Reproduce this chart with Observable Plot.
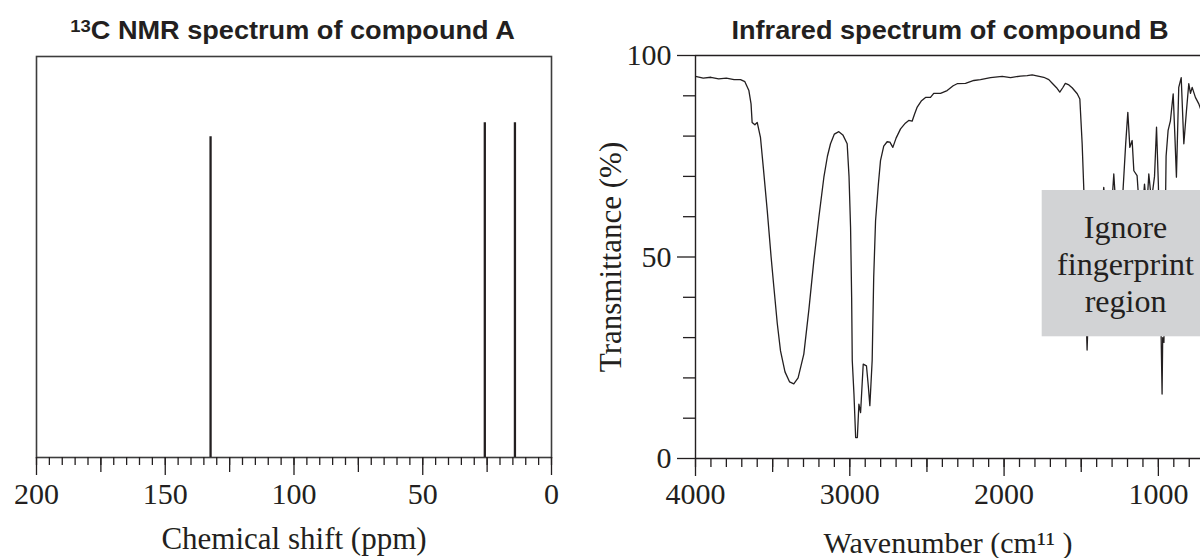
<!DOCTYPE html>
<html><head><meta charset="utf-8">
<script src="https://cdn.jsdelivr.net/npm/d3@7"></script>
<script src="https://cdn.jsdelivr.net/npm/@observablehq/plot@0.6"></script>
<style>
html,body{margin:0;padding:0;background:#fff;overflow:hidden;width:1200px;height:558px;}
#wrap{position:relative;width:1200px;height:558px;}
.title{position:absolute;font-family:"Liberation Sans",Arial,sans-serif;font-weight:bold;font-size:25px;color:#231f20;line-height:25px;white-space:nowrap;text-align:center;transform:scaleX(1.085);transform-origin:center;}
.title sup{font-size:0.68em;vertical-align:0.42em;line-height:0}
#left,#right{position:absolute;top:0}
#left{left:0}
#right{left:580px}
#left svg text, #right svg text{font-family:"Liberation Serif","Times New Roman",serif !important;}
</style></head>
<body><div id="wrap">
<div id="left"></div><div id="right"></div>
<div class="title" style="left:0;width:585px;top:18px"><sup>13</sup>C NMR spectrum of compound A</div>
<div class="title" style="left:700px;width:500px;top:18px">Infrared spectrum of compound B</div>
</div>
<script>
// ---- NMR data (compound A) ----
const nmrShifts = [132.4, 25.9, 14.2];
const nmrIntensity = [0.80, 0.835, 0.835];
const nmrTicksMajor = [200, 150, 100, 50, 0];
const nmrTicksMid = [175, 125, 75, 25];
const nmrTicksMinor = d3.range(0, 201, 5);
const nmrLabel = "Chemical shift (ppm)";

// ---- IR data (compound B) ----
const irWavenumber = [4000,3950,3900,3850,3800,3750,3708,3680,3654,3640,3633,3615,3600,3579,3560,3535,3510,3492,3470,3449,3420,3390,3363,3335,3298,3265,3233,3200,3168,3145,3125,3100,3071,3045,3017,3005,2995,2988,2984,2973,2962,2951,2941,2930,2913,2892,2880,2870,2855,2845,2833,2815,2801,2780,2758,2740,2721,2700,2671,2640,2618,2596,2580,2563,2535,2509,2477,2456,2412,2369,2330,2304,2250,2196,2153,2088,2012,1958,1894,1850,1818,1780,1743,1710,1688,1660,1639,1620,1603,1580,1559,1526,1509,1494,1483,1468,1462,1455,1440,1420,1400,1380,1365,1354,1340,1320,1300,1289,1275,1250,1230,1212,1198,1185,1170,1159,1138,1120,1100,1090,1075,1062,1045,1025,1012,1000,990,982,976,972,964,958,950,937,922,904,893,883,868,852,835,818,803,792,781,760,738,720];
const irTransmittance = [94.8,94.4,94.6,94.2,94.4,94.0,94.0,93.5,91.3,88.0,83.4,82.8,83.4,79.7,72.0,61.5,50.0,42.5,33.5,26.7,21.5,19.0,18.5,20.0,25.9,37.0,49.1,60.0,69.8,75.0,78.1,80.5,81.1,80.3,78.1,70.0,57.4,40.0,24.3,16.0,5.2,5.2,13.5,11.4,23.4,23.0,18.0,13.1,24.3,45.0,59.0,68.0,73.9,77.5,78.6,78.5,77.2,79.5,81.8,83.2,83.9,83.7,85.5,87.2,88.8,89.6,89.6,90.6,90.6,91.3,92.5,93.0,93.1,93.8,94.0,94.5,94.8,94.5,94.9,95.0,95.2,94.9,94.6,94.0,93.1,92.0,90.9,92.0,93.1,92.7,92.0,90.5,89.2,78.1,66.5,35.0,26.9,35.0,50.0,60.0,58.0,62.0,62.0,67.3,60.0,62.0,64.0,70.6,62.0,60.0,66.0,78.0,85.9,77.2,78.9,71.4,70.2,60.0,63.0,68.1,62.0,70.6,64.0,70.0,82.2,68.0,48.0,30.0,16.0,30.0,28.8,50.0,75.0,81.4,83.8,90.5,80.0,69.8,92.1,94.5,78.1,86.3,93.0,90.6,92.1,89.6,88.0,86.0];
const irTicksMajor = [4000, 3000, 2000, 1000];
const irTicksMid = [3500, 2500, 1500];
const irTicksMinor = d3.range(800, 4001, 100);
const irYTicksMajor = [0, 50, 100];
const irYTicksMinor = [10, 20, 30, 40, 60, 70, 80, 90];
const irXLabel = "Wavenumber (cm\u00B9\u00B9 )";
const irYLabel = "Transmittance (%)";
const fingerprintBox = {x1: 1753, x2: 500, y1: 30.2, y2: 66.5};
const fingerprintLabel = {x: 1213, y: 48.5, text: "Ignore\nfingerprint\nregion"};

const ink = "#231f20";
const serif = "Liberation Serif";
const plain = d => String(d);

const left = Plot.plot({
  width: 590, height: 558,
  marginLeft: 36, marginRight: 39, marginTop: 56, marginBottom: 101,
  style: {fontFamily: serif, fontSize: "30px", color: ink, background: "transparent"},
  x: {domain: [200, 0]},
  y: {domain: [0, 1], axis: null},
  marks: [
    Plot.frame({stroke: "#3d3d3d", strokeWidth: 1.6}),
    Plot.axisX(nmrTicksMinor, {tickSize: 8, tickFormat: () => "", label: null, stroke: ink, strokeWidth: 1.3}),
    Plot.axisX(nmrTicksMid, {tickSize: 15, tickFormat: () => "", label: null, stroke: ink, strokeWidth: 1.3}),
    Plot.axisX(nmrTicksMajor, {tickSize: 18, tickPadding: 7, tickFormat: plain, label: null, stroke: ink, strokeWidth: 1.3, fill: ink, fontSize: 30, fontFamily: serif}),
    Plot.ruleX(nmrShifts.map((s, i) => ({s, h: nmrIntensity[i]})), {x: "s", y1: 0, y2: "h", stroke: ink, strokeWidth: 2.3}),
    Plot.text([nmrLabel], {frameAnchor: "bottom", dy: 91, lineAnchor: "bottom", text: d => d, fontSize: 31, fontFamily: serif, fill: ink})
  ]
});
document.getElementById("left").appendChild(left);

const irData = irWavenumber.map((w, i) => ({w, t: irTransmittance[i]}));

const right = Plot.plot({
  width: 620, height: 558,
  marginLeft: 115, marginRight: 0, marginTop: 55, marginBottom: 100,
  style: {fontFamily: serif, fontSize: "30px", color: ink, background: "transparent"},
  x: {domain: [4000, 727]},
  y: {domain: [0, 100]},
  marks: [
    Plot.line(irData, {x: "w", y: "t", stroke: ink, strokeWidth: 1.3, clip: true}),
    Plot.rect([fingerprintBox], {x1: "x1", x2: "x2", y1: "y1", y2: "y2", fill: "#d2d3d5", clip: true}),
    Plot.text([fingerprintLabel], {x: "x", y: "y", text: "text", fontSize: 32, lineHeight: 1.15, fontFamily: serif, fill: ink}),
    Plot.ruleY([0, 100], {stroke: ink, strokeWidth: 1.4}),
    Plot.ruleX([4000], {stroke: ink, strokeWidth: 1.4}),
    Plot.axisY(irYTicksMinor, {anchor: "left", tickSize: 12, tickFormat: () => "", label: null, stroke: ink, strokeWidth: 1.3}),
    Plot.axisY(irYTicksMajor, {anchor: "left", tickSize: 18, tickPadding: 6, tickFormat: plain, label: null, stroke: ink, strokeWidth: 1.3, fill: ink, fontSize: 30, fontFamily: serif}),
    Plot.axisX(irTicksMinor, {tickSize: 9, tickFormat: () => "", label: null, stroke: ink, strokeWidth: 1.3}),
    Plot.axisX(irTicksMid, {tickSize: 14, tickFormat: () => "", label: null, stroke: ink, strokeWidth: 1.3}),
    Plot.axisX(irTicksMajor, {tickSize: 18, tickPadding: 6, tickFormat: plain, label: null, stroke: ink, strokeWidth: 1.3, fill: ink, fontSize: 30, fontFamily: serif}),
    Plot.text([irYLabel], {frameAnchor: "left", dx: -84, rotate: -90, textAnchor: "middle", text: d => d, fontSize: 31, fontFamily: serif, fill: ink}),
    Plot.text([irXLabel], {frameAnchor: "bottom", dy: 94, lineAnchor: "bottom", text: d => d, fontSize: 30, fontFamily: serif, fill: ink})
  ]
});
document.getElementById("right").appendChild(right);
</script>
</body></html>
